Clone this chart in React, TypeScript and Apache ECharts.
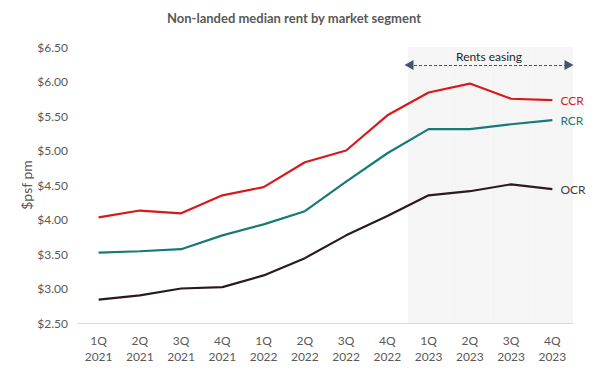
import React, { useEffect, useRef } from "react";
import * as echarts from "echarts";

const categories = [
  "1Q\n2021", "2Q\n2021", "3Q\n2021", "4Q\n2021",
  "1Q\n2022", "2Q\n2022", "3Q\n2022", "4Q\n2022",
  "1Q\n2023", "2Q\n2023", "3Q\n2023", "4Q\n2023",
];
const ccr = [4.03, 4.13, 4.09, 4.35, 4.47, 4.83, 5.0, 5.51, 5.84, 5.97, 5.75, 5.73];
const rcr = [3.52, 3.54, 3.57, 3.77, 3.93, 4.12, 4.55, 4.96, 5.31, 5.31, 5.38, 5.44];
const ocr = [2.84, 2.9, 3.0, 3.02, 3.19, 3.44, 3.77, 4.05, 4.35, 4.41, 4.51, 4.44];
const easingShade = [null, null, null, null, null, null, null, null, 6.5, 6.5, 6.5, 6.5];
const yTicks = { min: 2.5, max: 6.5, interval: 0.5 };

const FONT = "Lato, 'DejaVu Sans', sans-serif";
const GREY = "#595959";

export default function App() {
  const ref = useRef<HTMLDivElement>(null);
  useEffect(() => {
    if (!ref.current) return;
    const chart = echarts.init(ref.current, null, { renderer: "svg" });
    const lineSeries = (name: string, data: number[], color: string, labelColor: string) => ({
      name,
      type: "line",
      data,
      symbol: "none",
      lineStyle: { color, width: 2.2 },
      itemStyle: { color },
      z: 5,
      endLabel: {
        show: true,
        formatter: name,
        color: labelColor,
        fontFamily: FONT,
        fontSize: 12,
        distance: 8,
      },
    });
    chart.setOption({
      animation: false,
      textStyle: { fontFamily: FONT },
      title: {
        text: "Non-landed median rent by market segment",
        left: 289,
        textAlign: "center",
        top: 6,
        textStyle: { fontFamily: FONT, fontSize: 13, fontWeight: "bold", color: GREY },
      },
      grid: { left: 78, right: 27, top: 47, bottom: 48, containLabel: false },
      xAxis: {
        type: "category",
        data: categories,
        boundaryGap: true,
        axisLine: { lineStyle: { color: "#d9d9d9", width: 1 } },
        axisTick: { show: false },
        axisLabel: { color: GREY, fontSize: 12, lineHeight: 16, margin: 9, fontFamily: FONT, interval: 0 },
      },
      yAxis: {
        type: "value",
        min: yTicks.min,
        max: yTicks.max,
        interval: yTicks.interval,
        name: "$psf pm",
        nameLocation: "middle",
        nameGap: 45,
        nameMoveOverlap: false,
        nameTextStyle: { color: GREY, fontSize: 14, fontFamily: FONT },
        axisLine: { show: false },
        axisTick: { show: false },
        splitLine: { show: false },
        axisLabel: {
          color: GREY,
          fontSize: 12,
          margin: 10,
          fontFamily: FONT,
          formatter: (v: number) => "$" + v.toFixed(2),
        },
      },
      series: [
        {
          name: "shade",
          type: "bar",
          data: easingShade,
          barWidth: "100%",
          barCategoryGap: "0%",
          itemStyle: { color: "#f5f5f5" },
          silent: true,
          z: 1,
          markLine: {
            silent: true,
            symbol: ["triangle", "triangle"],
            symbolSize: [10, 9],
            lineStyle: { color: "#44546a", type: [3, 2], width: 1 },
            label: {
              show: true,
              position: "middle",
              formatter: "Rents easing",
              color: "#262626",
              fontSize: 12,
              fontFamily: FONT,
              distance: 3,
            },
            data: [[{ x: 409, y: 65 }, { x: 569, y: 65 }]],
          },
        },
        lineSeries("CCR", ccr, "#d7191c", "#d7191c"),
        lineSeries("RCR", rcr, "#157a78", "#157a78"),
        lineSeries("OCR", ocr, "#2a1a1f", "#404040"),
      ],
    });
    return () => chart.dispose();
  }, []);
  return <div ref={ref} style={{ width: 600, height: 371, position: "absolute", left: 0, top: 0 }} />;
}
